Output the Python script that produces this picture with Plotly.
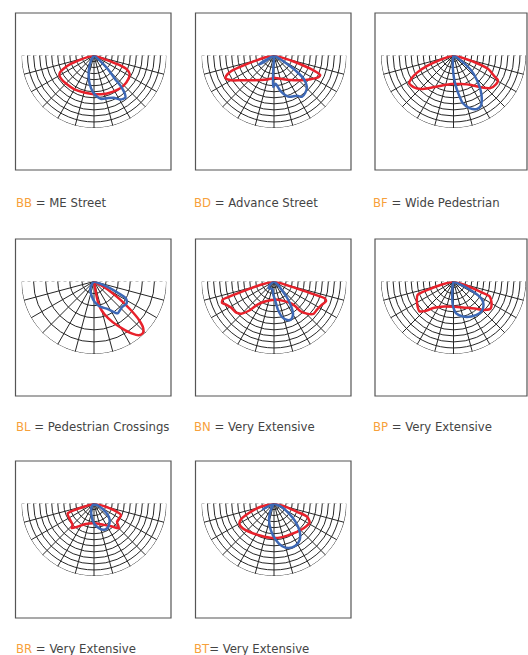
import plotly.graph_objects as go

# Polar light distribution curves of eight optics.
# Each curve: (gamma angle in degrees, 0 = nadir, + = street side, relative intensity)
# Grid runs 0..12 on the radial axis.

codes = ["BB", "BD", "BF", "BL", "BN", "BP", "BR", "BT"]
names = [" = ME Street", " = Advance Street", " = Wide Pedestrian",
         " = Pedestrian Crossings", " = Very Extensive", " = Very Extensive",
         " = Very Extensive", "= Very Extensive"]
rings = [12, 12, 12, 6, 12, 12, 12, 12]

bb_red = [(-90, 0), (-78, 0.4), (-76, 1.1), (-73, 2.3), (-70, 4.1), (-67, 5.3), (-64, 6.2),
          (-61, 6.55), (-55, 6.66), (-45, 6.56), (-30, 6.46), (-15, 6.33), (0, 6.4), (10, 6.5),
          (19, 6.64), (34, 6.88), (44, 7.0), (56, 6.88), (63, 6.61), (67, 5.9), (69.4, 4.66),
          (70.2, 2.9), (71, 1.2), (73, 0.4), (90, 0)]
bb_blue = [(-90, 0), (-40, 0), (-34, 0.4), (-29, 1.1), (-22, 2.1), (-15, 3.4), (-9, 4.7),
           (-2, 6.0), (4, 6.8), (9.5, 7.3), (17, 7.4), (25, 7.7), (31, 8.5), (36.6, 8.7),
           (39, 8.1), (41, 6.85), (42, 5.1), (45, 3.5), (48, 1.6), (52, 0.3), (90, 0)]

bd_red = [(-90, 0), (-80, 0.3), (-78.7, 1.1), (-76, 2.2), (-72, 5.2), (-70, 7.5), (-67, 8.6),
          (-65, 8.85), (-60, 8.2), (-53, 6.8), (-43, 5.6), (-28, 4.6), (-15, 4.1), (-8, 3.9),
          (0, 3.7), (8, 3.8), (16, 4.0), (34, 4.9), (47, 6.0), (57, 7.2), (64, 8.2), (67, 8.3),
          (70, 6.4), (73, 3.4), (76, 1.1), (78, 0.4), (90, 0)]
bd_blue = [(-90, 0), (-64, 0), (-61, 2.0), (-59, 2.9), (-57, 2.0), (-54, 0.3), (-10, 0.3),
           (-3, 2.0), (-1.5, 5.2), (3, 4.7), (10.5, 6.0), (19, 7.2), (30, 7.7), (34, 8.25),
           (40, 8.05), (46.5, 7.5), (52, 6.2), (54.5, 4.7), (56.5, 2.95), (59, 1.3), (62, 0.3),
           (90, 0)]

bf_red = [(-90, 0), (-80, 0.3), (-72, 2.2), (-68.7, 4.6), (-65, 6.6), (-61, 8.05), (-58, 8.65),
          (-51, 8.4), (-44, 7.7), (-35, 6.5), (-22, 5.4), (-5, 4.75), (15, 4.9), (31, 5.7),
          (41, 7.0), (48, 8.1), (56, 8.5), (61, 8.4), (62.5, 7.8), (69, 6.1), (72.4, 3.7),
          (76, 1.2), (80, 0.3), (90, 0)]
bf_blue = [(-90, 0), (-12, 0), (-7.6, 0.8), (-1, 2.8), (3.4, 4.7), (7.4, 6.4), (11, 8.0),
           (17, 9.1), (23, 9.65), (28.4, 9.5), (33, 8.6), (37.6, 7.4), (43.4, 5.7), (49.7, 3.9),
           (54.5, 1.9), (58.4, 0.85), (62, 0), (90, 0)]

bl_red = [(-90, 0), (0, 0), (9, 0.3), (9.5, 1.5), (10, 2.3), (11.8, 4.0), (17.7, 5.7),
          (24.7, 7.4), (31.1, 9.1), (36.3, 10.7), (39.9, 11.6), (43.5, 11.76), (46.6, 11.2),
          (49.5, 9.8), (52.2, 7.7), (55.2, 5.4), (58.4, 3.3), (61.4, 1.4), (64, 0.3), (90, 0)]
bl_blue = [(-90, 0), (-45, 0), (-40.6, 0.5), (-26.6, 1.34), (-10.8, 2.3), (1.8, 3.4),
           (13.9, 4.3), (26.6, 5.1), (33.4, 6.1), (36.6, 6.56), (42.2, 6.4), (48.5, 6.3),
           (56, 6.5), (61.8, 6.0), (64.3, 4.6), (67, 3.1), (69.7, 1.6), (71.6, 0.7), (74, 0),
           (90, 0)]

bn_red = [(-90, 0), (-80, 0.3), (-78, 1.1), (-76, 2.25), (-72.7, 5.1), (-71.1, 8.1),
          (-70.5, 9.0), (-67.6, 9.3), (-64.2, 8.8), (-58.4, 8.3), (-50.4, 8.1), (-45.6, 7.6),
          (-40.4, 6.3), (-35.5, 4.7), (-22.6, 3.55), (0, 3.0), (23.3, 3.45), (37.6, 4.5),
          (40.9, 5.4), (41.6, 6.6), (45.6, 7.6), (50.8, 8.45), (56.8, 8.5), (64.2, 8.8),
          (69.2, 9.2), (71.5, 8.9), (72.3, 6.3), (73.3, 3.4), (76, 1.1), (78, 0.3), (90, 0)]
bn_blue = [(-90, 0), (-60, 0), (-50, 0.8), (-38, 1.4), (-25, 1.3), (-12, 1.3), (-3, 2.2),
           (3, 3.0), (8, 4.7), (13, 6.05), (19, 6.75), (24, 6.9), (30, 6.3), (34.7, 5.0),
           (38.7, 3.5), (42, 2.05), (50, 0.85), (58, 0), (90, 0)]

bp_red = [(-90, 0), (-80, 0.3), (-75, 2.1), (-72, 4.5), (-69.5, 6.35), (-63.2, 6.8),
          (-55, 7.25), (-49.2, 7.5), (-44.7, 6.9), (-36.2, 5.4), (-19.8, 4.4), (2.3, 4.2),
          (22.9, 4.7), (38.2, 5.7), (47.6, 7.0), (54.2, 7.6), (62, 7.1), (67.4, 6.5),
          (68.9, 4.9), (71.2, 3.1), (73, 1.3), (76, 0.3), (90, 0)]
bp_blue = [(-90, 0), (-14, 0), (-11, 0.6), (-5, 2.5), (-0.8, 4.2), (4.8, 5.3), (14.9, 6.0),
           (26.8, 6.5), (39.4, 6.8), (47.7, 6.6), (55.7, 5.9), (60, 5.0), (62.6, 3.6),
           (65.6, 2.0), (66, 0.8), (68, 0), (90, 0)]

br_red = [(-90, 0), (-74, 0.3), (-71.6, 1.7), (-71.6, 3.45), (-69.4, 4.66), (-59, 4.77),
          (-45, 5.0), (-42.2, 5.5), (-35.5, 4.7), (-22, 3.65), (0, 3.27), (24.8, 3.9),
          (38.2, 4.86), (45, 5.8), (51.8, 4.86), (66.9, 4.86), (71.6, 3.45), (75, 1.7),
          (77, 0.3), (90, 0)]
br_blue = [(-90, 0), (-40, 0), (-35, 0.67), (-12.9, 1.96), (0, 3.27), (11.3, 4.17),
           (20.6, 4.66), (28, 4.64), (38, 4.16), (48.4, 3.28), (56.3, 1.97), (63.4, 0.73),
           (67, 0), (90, 0)]

bt_red = [(-90, 0), (-80, 0.3), (-76, 2.25), (-69.5, 4.37), (-64.4, 6.05), (-59.4, 6.65),
          (-51.7, 6.6), (-38.5, 6.13), (-22.2, 5.77), (-2.7, 5.73), (13.8, 5.73), (33.7, 5.9),
          (50.2, 6.39), (61.8, 6.69), (68.2, 5.88), (70.3, 4.06), (74, 2.0), (75, 0.85),
          (78, 0), (90, 0)]
bt_blue = [(-90, 0), (-66, 0), (-63, 2.1), (-60, 0.4), (-32, 0.3), (-28, 0.93), (-18.4, 2.6),
           (-7.1, 4.4), (2.6, 6.0), (10.9, 7.2), (18.4, 7.76), (26.9, 7.83), (35.3, 7.36),
           (42.5, 6.3), (49.8, 4.64), (56.3, 2.95), (65.6, 1.32), (70, 0), (90, 0)]

red_curves = [bb_red, bd_red, bf_red, bl_red, bn_red, bp_red, br_red, bt_red]
blue_curves = [bb_blue, bd_blue, bf_blue, bl_blue, bn_blue, bp_blue, br_blue, bt_blue]

# radial grid lines every 15 degrees below the horizon (shifted into the visible 270..450 span)
spokes = [a + 360 for a in range(-75, 90, 15)]
# outer rim of the diagram, traced along the full scale
rim_theta = list(range(-90, 91, 2))
R_MAX = 12

W, H = 528, 655
RED = "#e8212b"
BLUE = "#3d68b5"
GRID = "#262626"
ORANGE = "#f7a13b"
TEXT = "#444444"
FONT = "DejaVu Sans Condensed, DejaVu Sans, sans-serif"

col_left = [15.5, 195.5, 375]
col_right = [171, 351, 527]
row_top = [13, 239, 461]
label_y = [202.5, 426, 648]
label_x = [14, 192, 371]
R = 72.5

fig = go.Figure()
shapes = []
annotations = []

for i in range(8):
    col, row = i % 3, i // 3
    left, top = col_left[col], row_top[row]
    cx, cy = left + 78.5, top + 42.5
    key = "polar" if i == 0 else "polar" + str(i + 1)
    step = R_MAX / rings[i]

    # outer rim
    fig.add_trace(go.Scatterpolar(
        r=[R_MAX] * len(rim_theta), theta=rim_theta, mode="lines",
        line=dict(color=GRID, width=1), cliponaxis=False, subplot=key, hoverinfo="skip"))
    # horizon line (dashed, light)
    fig.add_trace(go.Scatterpolar(
        r=[R_MAX, 0, R_MAX], theta=[-90, 0, 90], mode="lines",
        line=dict(color="#8c8c8c", width=1, dash="3px,3px"),
        cliponaxis=False, subplot=key, hoverinfo="skip"))
    for pts, color in ((red_curves[i], RED), (blue_curves[i], BLUE)):
        fig.add_trace(go.Scatterpolar(
            theta=[p[0] for p in pts], r=[p[1] for p in pts], mode="lines",
            line=dict(color=color, width=2.5, shape="spline", smoothing=0.7),
            subplot=key))

    fig.layout[key] = dict(
        domain=dict(x=[(cx - R) / W, (cx + R) / W], y=[1 - (cy + R) / H, 1 - cy / H]),
        sector=[180, 360],
        bgcolor="rgba(0,0,0,0)",
        radialaxis=dict(range=[0, R_MAX], tickmode="array",
                        tickvals=[step * (k + 1) for k in range(rings[i])],
                        showticklabels=False, ticks="", showline=False,
                        gridcolor=GRID, gridwidth=1, layer="below traces"),
        angularaxis=dict(rotation=-90, direction="counterclockwise",
                         tickmode="array", tickvals=spokes, showticklabels=False,
                         ticks="", showline=False, layer="below traces",
                         showgrid=True, gridcolor=GRID, gridwidth=1),
    )

    shapes.append(dict(type="rect", xref="paper", yref="paper",
                       x0=left / W, x1=col_right[col] / W,
                       y0=1 - (top + 157) / H, y1=1 - top / H,
                       line=dict(color="#555555", width=1.2)))

    annotations.append(dict(
        x=label_x[col] / W, y=1 - label_y[row] / H, xref="paper", yref="paper",
        xanchor="left", yanchor="middle", showarrow=False,
        text="<span style='color:" + ORANGE + "'>" + codes[i] + "</span>" + names[i],
        font=dict(family=FONT, size=13, color=TEXT)))

fig.update_layout(
    width=W, height=H,
    margin=dict(l=0, r=0, t=0, b=0),
    paper_bgcolor="white",
    showlegend=False,
    shapes=shapes,
    annotations=annotations,
)

fig.write_html("out.html", config={"displayModeBar": False},
               post_script="document.body.style.margin='0';document.body.style.overflow='hidden';")
